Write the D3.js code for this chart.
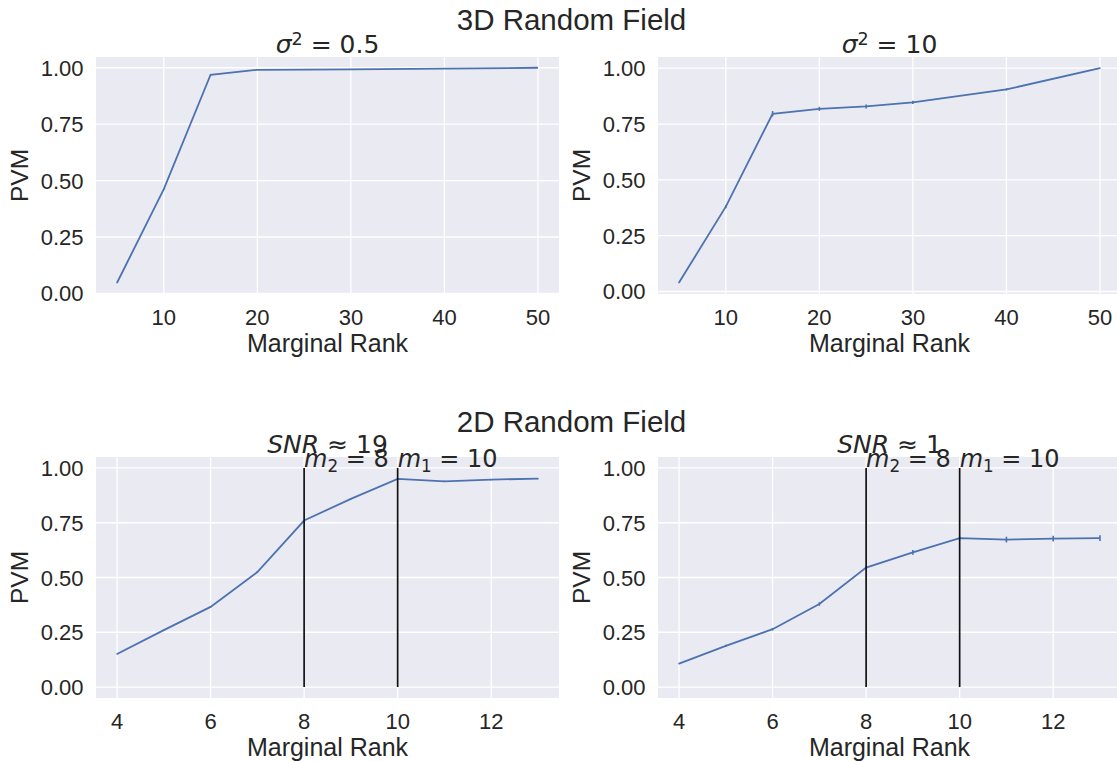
<!DOCTYPE html>
<html>
<head>
<meta charset="utf-8">
<script src="https://cdn.jsdelivr.net/npm/d3@7"></script>
<style>
  body { margin: 0; background: white; }
  svg { display: block; }
</style>
</head>
<body>
<svg width="1117" height="761"></svg>
<script>
// data
const rank3D = [5, 10, 15, 20, 25, 30, 40, 50];
const pvmSigma05 = [0.047, 0.462, 0.969, 0.991, 0.992, 0.993, 0.996, 1.0];
const errSigma05 = [0.002, 0.003, 0.002, 0.001, 0.001, 0.001, 0.001, 0.0];
const pvmSigma10 = [0.040, 0.380, 0.796, 0.818, 0.829, 0.847, 0.905, 1.0];
const errSigma10 = [0.003, 0.007, 0.012, 0.009, 0.009, 0.007, 0.005, 0.002];

const rank2D = [4, 5, 6, 7, 8, 9, 10, 11, 12, 13];
const pvmSnr19 = [0.151, 0.260, 0.366, 0.525, 0.760, 0.859, 0.950, 0.939, 0.947, 0.951];
const errSnr19 = [0.002, 0.003, 0.003, 0.003, 0.003, 0.003, 0.003, 0.003, 0.003, 0.003];
const pvmSnr1 = [0.107, 0.188, 0.264, 0.379, 0.545, 0.615, 0.680, 0.673, 0.677, 0.680];
const errSnr1 = [0.003, 0.005, 0.006, 0.008, 0.006, 0.011, 0.006, 0.013, 0.013, 0.013];

const xTicks3D = [10, 20, 30, 40, 50];
const xTicks2D = [4, 6, 8, 10, 12];
const yTicks = [0, 0.25, 0.5, 0.75, 1.0];
const rankLines = [{x: 8, label: "2", val: "8"}, {x: 10, label: "1", val: "10"}];

const svg = d3.select("svg");
const sans = "'Liberation Sans', Arial, sans-serif";
const mathFont = "'DejaVu Sans', sans-serif";
const lineColor = "#4c72b0";

// matplotlib style autoscale: 5% margin each side
const pad = (lo, hi) => { const r = hi - lo; return [lo - 0.05 * r, hi + 0.05 * r]; };

function mathText(g, x, y, parts, anchor, size) {
    const t = g.append("text")
        .attr("x", x).attr("y", y)
        .attr("text-anchor", anchor)
        .attr("font-family", mathFont)
        .attr("font-size", size)
        .attr("fill", "#262626");
    parts.forEach(p => {
        const sp = t.append("tspan").text(p.t);
        if (p.i) sp.attr("font-style", "italic");
        if (p.sup) sp.attr("font-size", size * 0.7).attr("dy", -size * 0.33);
        if (p.sub) sp.attr("font-size", size * 0.7).attr("dy", size * 0.2);
        if (p.back) sp.attr("dy", p.back * size);
    });
    return t;
}

function panel(opt) {
    const {left, top, w, h, xs, ys, errs, xTicks, vlines} = opt;
    const g = svg.append("g");

    let yLo = d3.min(ys.map((v, i) => v - errs[i]));
    let yHi = d3.max(ys.map((v, i) => v + errs[i]));
    if (vlines) { yLo = Math.min(yLo, 0); yHi = Math.max(yHi, 1); }
    const x = d3.scaleLinear().domain(pad(d3.min(xs), d3.max(xs))).range([left, left + w]);
    const y = d3.scaleLinear().domain(pad(yLo, yHi)).range([top + h, top]);

    g.append("rect")
        .attr("x", left).attr("y", top)
        .attr("width", w).attr("height", h)
        .attr("fill", "#eaeaf2");

    g.selectAll("line.gx").data(xTicks).join("line")
        .attr("class", "gx")
        .attr("x1", d => x(d)).attr("x2", d => x(d))
        .attr("y1", top).attr("y2", top + h)
        .attr("stroke", "white").attr("stroke-width", 1.3);
    g.selectAll("line.gy").data(yTicks).join("line")
        .attr("class", "gy")
        .attr("x1", left).attr("x2", left + w)
        .attr("y1", d => y(d)).attr("y2", d => y(d))
        .attr("stroke", "white").attr("stroke-width", 1.3);

    // tick labels
    g.selectAll("text.tx").data(xTicks).join("text")
        .attr("class", "tx")
        .attr("x", d => x(d)).attr("y", top + h + 30.5)
        .attr("text-anchor", "middle")
        .attr("font-family", sans).attr("font-size", 22)
        .attr("fill", "#262626")
        .text(d => d);
    g.selectAll("text.ty").data(yTicks).join("text")
        .attr("class", "ty")
        .attr("x", left - 12.5).attr("y", d => y(d) + 8)
        .attr("text-anchor", "end")
        .attr("font-family", sans).attr("font-size", 22)
        .attr("fill", "#262626")
        .text(d => d3.format(".2f")(d));

    g.append("text")
        .attr("x", left + w / 2).attr("y", top + h + 57.5)
        .attr("text-anchor", "middle")
        .attr("font-family", sans).attr("font-size", 25)
        .attr("fill", "#262626")
        .text("Marginal Rank");
    g.append("text")
        .attr("transform", `translate(${left - 68},${top + h / 2}) rotate(-90)`)
        .attr("text-anchor", "middle")
        .attr("font-family", sans).attr("font-size", 24.5)
        .attr("fill", "#262626")
        .text("PVM");

    // error bars
    g.selectAll("line.err").data(xs).join("line")
        .attr("class", "err")
        .attr("x1", d => x(d)).attr("x2", d => x(d))
        .attr("y1", (d, i) => y(ys[i] - errs[i]))
        .attr("y2", (d, i) => y(ys[i] + errs[i]))
        .attr("stroke", lineColor).attr("stroke-width", 1.6);

    const line = d3.line().x(d => x(d[0])).y(d => y(d[1]));
    g.append("path")
        .datum(xs.map((v, i) => [v, ys[i]]))
        .attr("d", line)
        .attr("fill", "none")
        .attr("stroke", lineColor)
        .attr("stroke-width", 1.8);

    if (vlines) {
        g.selectAll("line.vl").data(vlines).join("line")
            .attr("class", "vl")
            .attr("x1", d => x(d.x)).attr("x2", d => x(d.x))
            .attr("y1", y(0)).attr("y2", y(1))
            .attr("stroke", "#111").attr("stroke-width", 1.7);
        vlines.forEach(d => {
            mathText(g, x(d.x), y(1) - 1, [
                {t: "m", i: true},
                {t: d.label, sub: true},
                {t: " = " + d.val, back: -0.2}
            ], "start", 24);
        });
    }

    mathText(g, left + w / 2, top - 4, opt.title, "middle", 25);
    return g;
}

const W = 463;
panel({left: 96, top: 57, w: W, h: 237, xs: rank3D, ys: pvmSigma05, errs: errSigma05,
    xTicks: xTicks3D, title: [{t: "σ", i: true}, {t: "2", sup: true}, {t: " = 0.5", back: 0.33}]});
panel({left: 658, top: 57, w: W, h: 237, xs: rank3D, ys: pvmSigma10, errs: errSigma10,
    xTicks: xTicks3D, title: [{t: "σ", i: true}, {t: "2", sup: true}, {t: " = 10", back: 0.33}]});
panel({left: 96, top: 457, w: W, h: 241, xs: rank2D, ys: pvmSnr19, errs: errSnr19,
    xTicks: xTicks2D, vlines: rankLines, title: [{t: "SNR", i: true}, {t: " ≈ 19"}]});
panel({left: 658, top: 457, w: W, h: 241, xs: rank2D, ys: pvmSnr1, errs: errSnr1,
    xTicks: xTicks2D, vlines: rankLines, title: [{t: "SNR", i: true}, {t: " ≈ 1"}]});

// row titles
[["3D Random Field", 30], ["2D Random Field", 431.5]].forEach(([s, yy]) => {
    svg.append("text")
        .attr("x", 571.5).attr("y", yy)
        .attr("text-anchor", "middle")
        .attr("font-family", sans).attr("font-size", 29.5)
        .attr("fill", "#262626")
        .text(s);
});
</script>
</body>
</html>
